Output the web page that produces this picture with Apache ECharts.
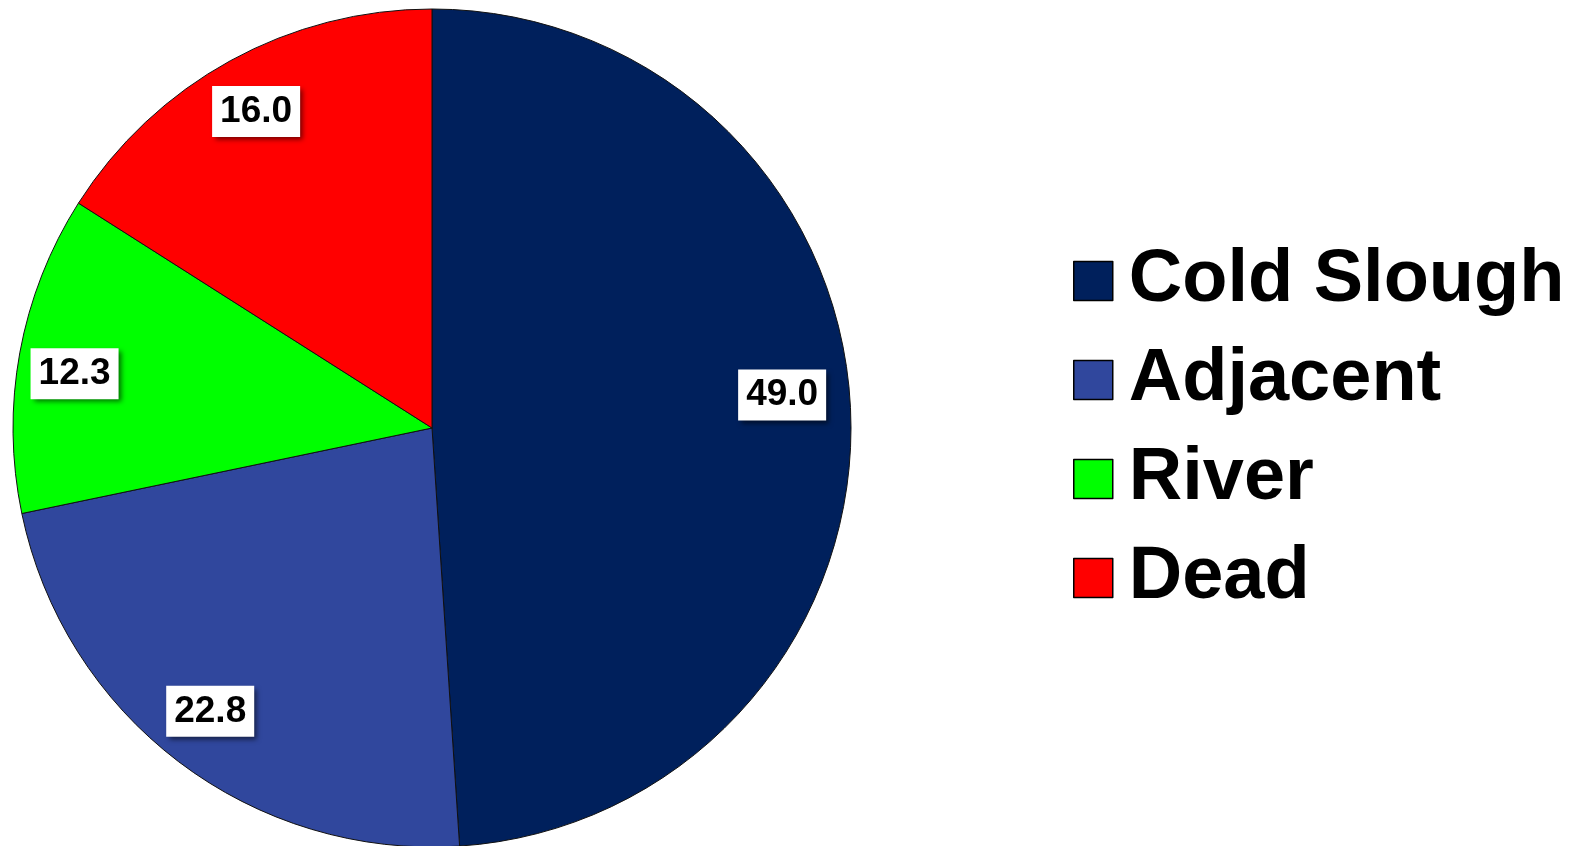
<!DOCTYPE html>
<html>
<head>
<meta charset="utf-8">
<script src="https://cdn.jsdelivr.net/npm/echarts@6/dist/echarts.min.js"></script>
<style>
  html, body { margin: 0; padding: 0; background: #ffffff; }
  #chart { width: 1586px; height: 846px; }
</style>
</head>
<body>
<div id="chart"></div>
<script>
// Share of tagged fish by location
const categories = ['Cold Slough', 'Adjacent', 'River', 'Dead'];
const values = [49.0, 22.8, 12.3, 16.0];
const colors = ['#00205C', '#30479D', '#00FF00', '#FF0000'];
// fine nudges (px) for the value boxes, per slice
const labelNudge = [[-13, -21], [-2, -6], [0, 11], [-1, 2]];

const chart = echarts.init(document.getElementById('chart'), null, { renderer: 'canvas' });

const sliceData = categories.map((name, i) => ({
  name: name,
  value: values[i],
  itemStyle: { color: colors[i] }
}));

const labelData = categories.map((name, i) => ({ name: name, value: values[i] }));

const CENTER = [432, 428];
const R = 419;

chart.setOption({
  animation: false,
  legend: {
    orient: 'vertical',
    left: 1068,
    top: 239,
    itemWidth: 39,
    itemHeight: 39,
    itemGap: 25,
    icon: 'rect',
    selectedMode: false,
    data: categories,
    itemStyle: { borderColor: '#000000', borderWidth: 1.5 },
    textStyle: {
      fontFamily: '"Liberation Sans", Arial, sans-serif',
      fontWeight: 'bold',
      fontSize: 74,
      color: '#000000',
      padding: [0, 0, 0, 11]
    }
  },
  series: [
    {
      type: 'pie',
      center: CENTER,
      radius: [0, R],
      startAngle: 90,
      clockwise: true,
      silent: true,
      label: { show: false },
      labelLine: { show: false },
      itemStyle: { borderColor: '#111111', borderWidth: 1 },
      data: sliceData
    },
    {
      // label ring: places value boxes near the rim of each slice
      type: 'pie',
      center: CENTER,
      radius: [R * 0.72, R],
      startAngle: 90,
      clockwise: true,
      silent: true,
      itemStyle: { color: 'rgba(0,0,0,0)', borderWidth: 0 },
      labelLine: { show: false },
      labelLayout: p => ({ dx: labelNudge[p.dataIndex][0], dy: labelNudge[p.dataIndex][1] }),
      label: {
        show: true,
        position: 'inside',
        formatter: p => p.value.toFixed(1),
        fontFamily: '"Liberation Sans", Arial, sans-serif',
        fontWeight: 'bold',
        fontSize: 37,
        lineHeight: 37,
        color: '#000000',
        backgroundColor: '#ffffff',
        padding: [7, 8],
        shadowColor: 'rgba(0,0,0,0.55)',
        shadowBlur: 5,
        shadowOffsetX: 3,
        shadowOffsetY: 3
      },
      data: labelData
    }
  ]
});
</script>
</body>
</html>
